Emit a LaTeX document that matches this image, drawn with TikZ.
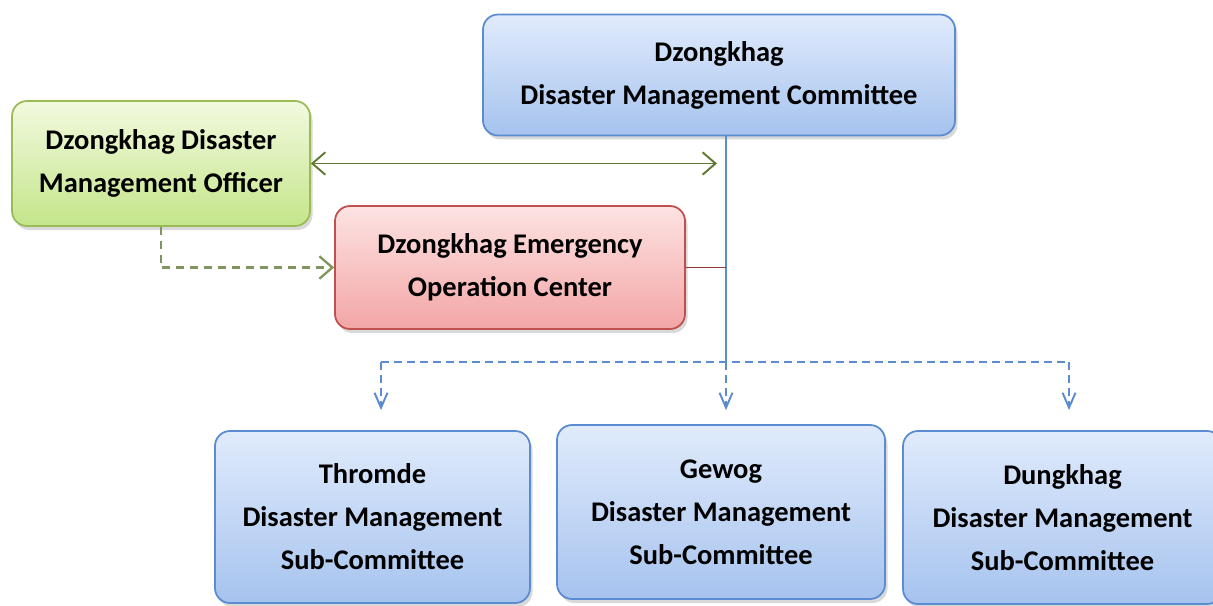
\documentclass[tikz,border=0pt]{standalone}
\usepackage{fontspec}
\setmainfont{Carlito}
\usetikzlibrary{arrows.meta,shadows}

\definecolor{blueTop}{HTML}{E0EBFC}
\definecolor{blueBot}{HTML}{A6C3EE}
\definecolor{blueLine}{HTML}{5B8BD0}
\definecolor{greenTop}{HTML}{F2FADF}
\definecolor{greenBot}{HTML}{C4E58A}
\definecolor{greenLine}{HTML}{9BBB59}
\definecolor{greenArrow}{HTML}{5E7A32}
\definecolor{redTop}{HTML}{FDE3E3}
\definecolor{redBot}{HTML}{F3A5A5}
\definecolor{redLine}{HTML}{C0504D}
\definecolor{redArrow}{HTML}{943634}

\begin{document}
\begin{tikzpicture}[
  box/.style={draw, line width=1pt, rounded corners=0.3cm, align=center,
    font=\fontsize{16.2}{24.5}\selectfont\bfseries,
    drop shadow={shadow xshift=0.05cm, shadow yshift=-0.08cm, opacity=0.3}},
  bluebox/.style={box, top color=blueTop, bottom color=blueBot, draw=blueLine},
  greenbox/.style={box, top color=greenTop, bottom color=greenBot, draw=greenLine},
  redbox/.style={box, top color=redTop, bottom color=redBot, draw=redLine},
  bluedash/.style={blueLine, line width=1.1pt, dash pattern=on 0.16cm off 0.1cm},
  barb/.style={-{Straight Barb[length=0.3cm, width=0.26cm]}}
]
\useasboundingbox (0,0) rectangle (24.26,-12.10);

% committees
\node (dmc) at (14.38,-1.5) [bluebox, minimum width=9.44cm, minimum height=2.42cm]
  {Dzongkhag\\Disaster Management Committee};
\node (ddmo) at (3.22,-3.27) [greenbox, minimum width=5.96cm, minimum height=2.5cm]
  {Dzongkhag Disaster\\Management Officer};
\node (eoc) at (10.2,-5.35) [redbox, minimum width=7.0cm, minimum height=2.46cm]
  {Dzongkhag Emergency\\Operation Center};

\node (thromde) at (7.45,-10.34) [bluebox, minimum width=6.3cm, minimum height=3.44cm]
  {Thromde\\Disaster Management\\Sub-Committee};
\node (gewog) at (14.42,-10.24) [bluebox, minimum width=6.56cm, minimum height=3.48cm]
  {Gewog\\Disaster Management\\Sub-Committee};
\node (dungkhag) at (21.25,-10.35) [bluebox, minimum width=6.38cm, minimum height=3.46cm]
  {Dungkhag\\Disaster Management\\Sub-Committee};

\coordinate (hub) at (14.52,-7.24);
\coordinate (lft) at (7.62,-7.24);
\coordinate (rgt) at (21.38,-7.24);

% main trunk
\draw [blueLine, line width=0.9pt] (hub |- dmc.south) -- (hub);

\draw [greenArrow, line width=1.1pt,
  {Straight Barb[length=0.26cm, width=0.45cm]}-{Straight Barb[length=0.26cm, width=0.45cm]},
  shorten >=0.18cm] (ddmo.east) -- (ddmo.east -| hub);

\draw [redArrow, line width=1.1pt] (eoc.east) -- (eoc.east -| hub);

\draw [greenArrow!80, line width=1.3pt, dash pattern=on 0.16cm off 0.12cm,
  -{Straight Barb[length=0.26cm, width=0.45cm]}]
  (ddmo.south) -- (ddmo.south |- eoc.west) -- (eoc.west);

% sub-committees
\draw [bluedash] (lft) -- (rgt);
\draw [bluedash, barb, shorten >=0.4cm] (lft) -- (lft |- thromde.north);
\draw [bluedash, barb, shorten >=0.28cm] (hub) -- (hub |- gewog.north);
\draw [bluedash, barb, shorten >=0.4cm] (rgt) -- (rgt |- dungkhag.north);

\end{tikzpicture}
\end{document}
